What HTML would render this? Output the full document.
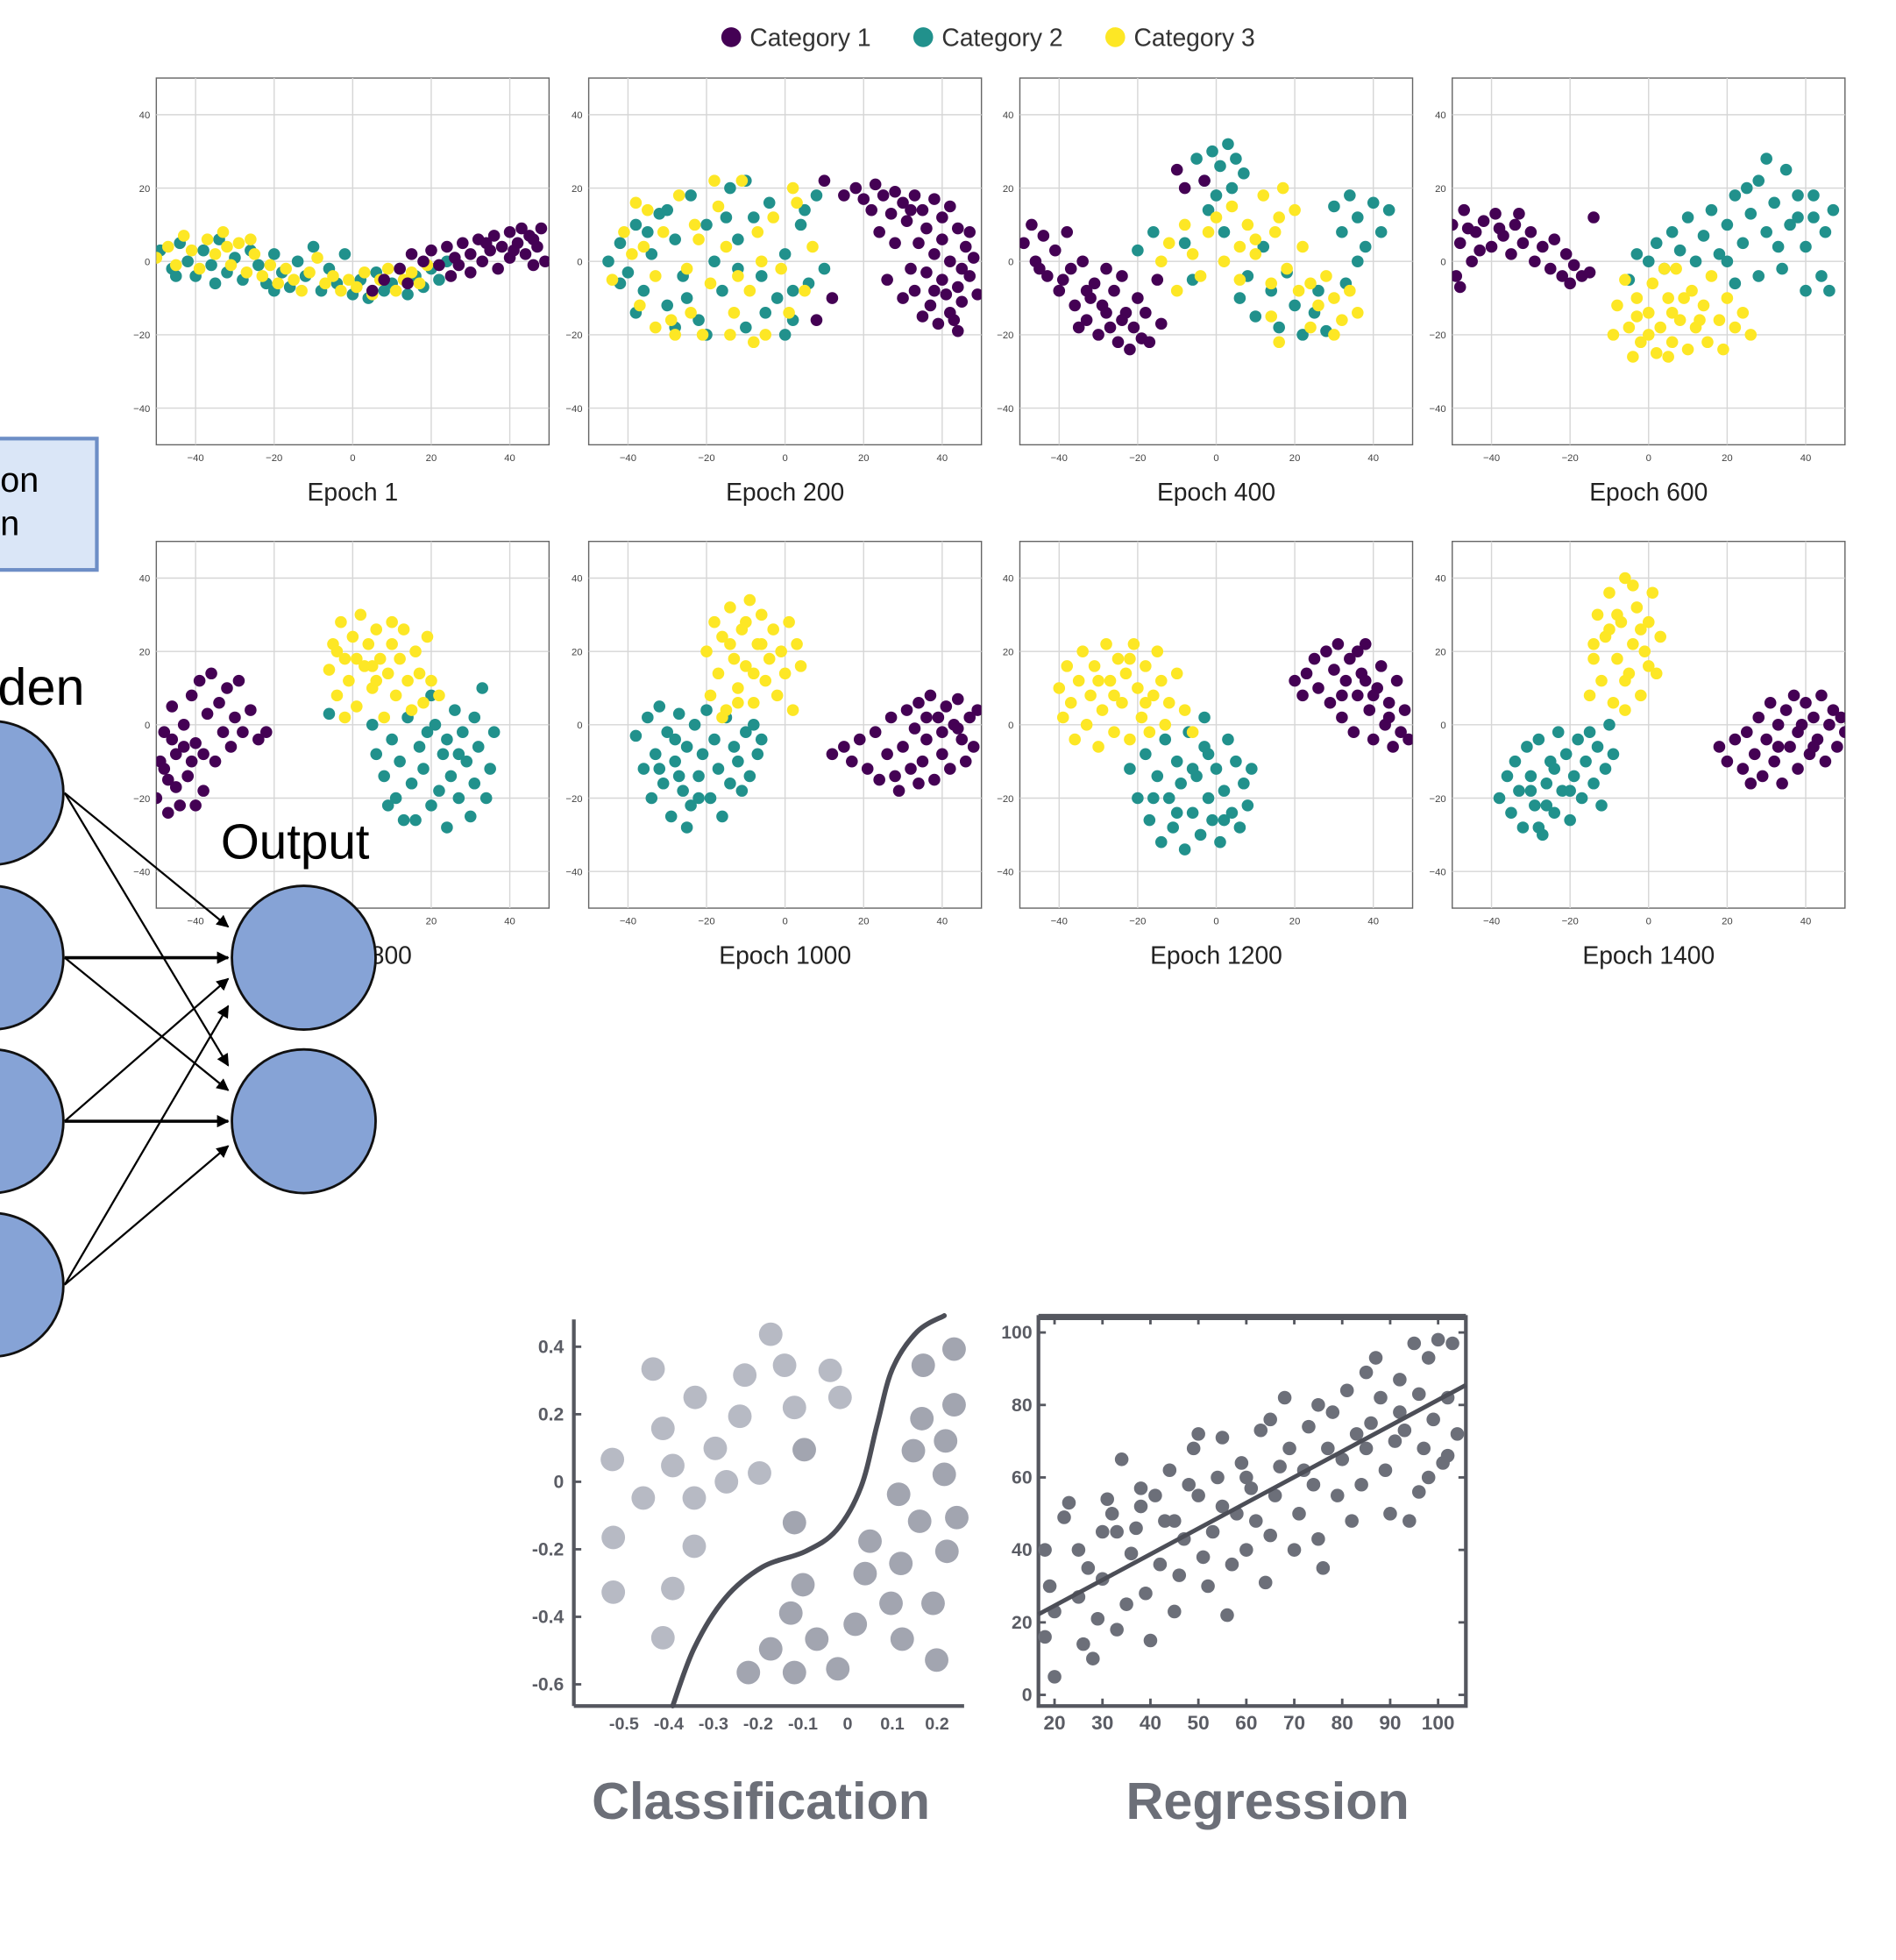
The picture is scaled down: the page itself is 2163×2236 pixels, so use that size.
<!DOCTYPE html>
<html><head><meta charset="utf-8"><style>
html,body{margin:0;padding:0;background:#fff;}
svg{display:block;}
text{font-family:"Liberation Sans",sans-serif;}
</style></head><body>
<svg id="root" width="2163" height="2236" viewBox="0 0 1530 1582" xmlns="http://www.w3.org/2000/svg">
<defs><marker id="ah" markerWidth="10" markerHeight="10" refX="9" refY="5" orient="auto" markerUnits="userSpaceOnUse"><path d="M0,0 L10,5 L0,10 z" fill="#000"/></marker></defs>
<g id="net">
<rect x="-10" y="354" width="88" height="106" fill="#dae6f7" stroke="#6d8ec6" stroke-width="3"/>
<text x="0" y="397" font-size="28">on</text>
<text x="0" y="432" font-size="28">n</text>
<text x="-2" y="569" font-size="42">den</text>
<text x="178" y="693" font-size="40">Output</text>
</g>
<g id="tsne"></g>
<g id="cls"></g>
<g id="reg"></g>
</svg>
<script>
const NS='http://www.w3.org/2000/svg';
function mk(parent,tag,attrs,text){const e=document.createElementNS(NS,tag);for(const k in attrs)e.setAttribute(k,attrs[k]);if(text!==undefined)e.textContent=text;parent.appendChild(e);return e;}

// ---------- t-SNE data ----------
const epochLabels=['Epoch 1','Epoch 200','Epoch 400','Epoch 600','Epoch 800','Epoch 1000','Epoch 1200','Epoch 1400'];
const categories=['Category 1','Category 2','Category 3'];
const catColors=['#440154','#21918c','#fde725'];
const axisTicks=[-40,-20,0,20,40];
const cat1Points=[
"12 -2,15 2,18 0,20 3,22 -1,24 4,26 1,28 5,30 2,32 6,33 0,35 3,36 7,38 4,40 1,40 8,42 5,44 2,45 7,47 4,48 9,49 0,46 -1,43 9,30 -3,25 -4,37 -2,14 -6,8 -5,5 -8,41 3,46 6,34 5,27 -1",
"15 18,18 20,20 17,23 21,25 18,28 19,30 16,33 18,35 14,38 17,40 12,42 15,27 13,31 11,36 9,40 6,44 9,46 4,48 1,45 -2,42 0,38 2,34 5,36 -3,40 -5,44 -7,47 -4,49 -9,45 -11,41 -9,37 -12,33 -8,30 -10,35 -15,39 -17,42 -14,44 -19,32 -2,28 5,24 8,26 -5,10 22,12 -10,8 -16,47 8,43 -16,38 -8,32 14,22 14",
"-49 5,-47 10,-46 0,-44 7,-43 -4,-41 3,-40 -8,-38 8,-37 -2,-36 -12,-34 0,-33 -16,-31 -6,-30 -20,-29 -12,-27 -18,-26 -8,-25 -22,-23 -14,-22 -24,-21 -18,-20 -10,-19 -21,-18 -14,-17 -22,-15 -5,-14 -17,-28 -2,-32 -10,-24 -4,-35 -18,-10 25,-8 20,-3 22,-45 -2,-39 -5,-33 -8,-28 -14,-24 -16",
"-50 10,-48 5,-47 14,-45 0,-44 8,-42 11,-40 4,-39 13,-37 7,-35 2,-34 10,-32 5,-30 8,-29 0,-27 4,-25 -2,-24 6,-22 -4,-21 2,-20 -6,-19 -1,-17 -4,-15 -3,-49 -4,-48 -7,-14 12,-33 13,-43 3,-38 9,-46 9",
"-50 -20,-49 -10,-48 -2,-47 -15,-46 5,-45 -8,-44 -22,-43 0,-42 -14,-41 8,-40 -5,-39 12,-38 -18,-37 3,-36 14,-35 -10,-34 6,-33 -2,-32 10,-31 -6,-30 2,-29 12,-28 -2,-26 4,-24 -4,-22 -2,-47 -24,-40 -22,-42 -14,-48 -12,-45 -17,-43 -6,-41 -10,-46 -4,-38 -8",
"12 -8,15 -6,17 -10,19 -4,21 -12,23 -2,24 -15,26 -8,27 2,28 -14,29 -18,30 -6,31 4,32 -12,33 -1,34 6,35 -10,36 -4,37 8,38 -15,39 2,40 -8,41 5,42 -12,43 0,44 7,45 -4,46 -10,47 2,48 -6,49 4,34 -16,40 -2,44 -1,36 2",
"20 12,22 8,23 14,25 18,26 10,28 20,29 6,30 15,31 22,32 2,33 12,34 18,35 -2,36 8,37 14,38 22,39 4,40 -4,41 10,42 16,43 0,44 6,45 -6,46 12,47 -2,48 4,49 -4,36 20,32 8,40 8,44 2,38 12",
"18 -6,20 -10,22 -4,24 -12,25 -2,26 -16,27 -8,28 2,29 -14,30 -4,31 6,32 -10,33 0,34 -16,35 4,36 -6,37 8,38 -12,39 0,40 6,41 -8,42 2,43 -4,44 8,45 -10,46 0,47 4,48 -6,49 2,50 -2,33 -6,38 -2,42 -6"
];
const cat2Points=[
"-49 3,-46 -2,-44 5,-42 0,-40 -4,-38 3,-36 -1,-34 6,-32 -3,-30 1,-28 -5,-26 3,-24 -1,-22 -6,-20 2,-18 -3,-16 -7,-14 0,-12 -4,-10 4,-8 -8,-6 -2,-4 -6,-2 2,0 -9,2 -5,4 -10,6 -3,8 -8,10 -6,12 -2,14 -9,16 -4,18 -7,20 -2,22 -5,24 0,-35 -6,-45 -4,-20 -8",
"-45 0,-42 5,-40 -3,-38 10,-36 -8,-34 2,-32 13,-30 -12,-28 6,-26 -4,-24 18,-22 -16,-20 10,-18 0,-16 -8,-14 20,-12 6,-10 -18,-8 12,-6 -4,-4 16,-2 -10,0 2,2 -16,4 10,6 -6,8 18,10 -2,-38 -14,-30 14,-20 -20,-10 22,0 -20,5 14,-35 8,-25 -10,-15 12,-5 -14,-42 -6,-28 -18,-12 -2,2 -8",
"-5 28,-3 22,-1 30,0 18,1 26,3 32,4 20,5 28,7 24,-2 14,-8 5,-6 -5,2 8,6 -10,10 -15,14 -8,16 -18,20 -12,22 -20,25 -14,28 -19,12 4,18 -3,30 15,32 8,34 18,36 12,38 4,40 16,42 8,44 14,36 0,8 -4,-20 3,-16 8,33 -6,26 -8",
"-5 -5,0 0,2 5,4 -2,6 8,8 3,10 12,12 0,14 7,16 14,18 2,20 10,22 18,24 5,26 13,28 22,30 8,32 16,34 -2,36 10,38 18,40 4,42 12,44 -4,45 8,35 25,30 28,25 20,20 0,46 -8,-3 2,28 -4,22 -6,40 -8,33 4,38 12,47 14,42 18",
"5 0,6 -8,8 -14,10 -4,11 -20,12 -10,14 2,15 -16,16 -26,17 -6,18 -12,20 -22,21 0,22 -18,23 -8,24 -28,25 -14,26 4,27 -20,28 -2,29 -10,30 -25,31 -16,32 -6,33 10,34 -20,35 -12,36 -2,-6 3,20 8,9 -22,13 -26,19 -2,27 -8,31 2,24 -4",
"-38 -3,-36 -12,-35 2,-34 -20,-33 -8,-32 5,-31 -16,-30 -2,-29 -25,-28 -10,-27 3,-26 -18,-25 -6,-24 -22,-23 0,-22 -14,-21 -8,-20 4,-19 -20,-18 -4,-17 -12,-16 -25,-15 2,-14 -16,-13 -6,-12 -10,-11 -18,-10 -2,-9 -14,-8 0,-7 -8,-6 -4,-25 -28,-32 -12,-28 -4,-22 -20,-27 -14",
"-22 -12,-20 -20,-18 -8,-17 -26,-15 -14,-14 -32,-13 -4,-12 -20,-11 -28,-10 -10,-9 -16,-8 -34,-7 -2,-6 -24,-5 -14,-4 -30,-3 -6,-2 -20,-1 -26,0 -12,1 -32,2 -18,3 -4,4 -24,5 -10,6 -28,7 -16,8 -22,9 -12,-3 2,-16 -20,-10 -24,-6 -12,2 -26,-2 -8",
"-38 -20,-36 -14,-35 -24,-34 -10,-33 -18,-32 -28,-31 -6,-30 -14,-29 -22,-28 -4,-27 -30,-26 -16,-25 -10,-24 -24,-23 -2,-22 -18,-21 -8,-20 -26,-19 -14,-18 -4,-17 -20,-16 -10,-15 -2,-14 -16,-13 -6,-12 -22,-11 -12,-10 0,-9 -8,-28 -28,-30 -18,-24 -12,-20 -18,-26 -22"
];
const cat3Points=[
"-50 1,-47 4,-45 -1,-43 7,-41 3,-39 -2,-37 6,-35 2,-33 8,-31 -1,-29 5,-27 -3,-25 2,-23 -4,-21 -1,-19 -6,-17 -2,-15 -5,-13 -8,-11 -3,-9 1,-7 -6,-5 -4,-3 -8,-1 -5,1 -7,3 -3,5 -9,7 -5,9 -2,11 -8,13 -5,15 -3,17 -6,19 -1,-32 4,-26 6",
"-44 -5,-41 8,-39 2,-37 -12,-35 14,-33 -4,-31 8,-29 -16,-27 18,-25 -2,-23 10,-21 -20,-19 -6,-17 15,-15 4,-13 -14,-11 22,-9 -8,-7 8,-5 -20,-3 12,-1 -2,1 -14,3 16,5 -8,7 4,-38 16,-28 -20,-18 22,-8 -22,2 20,-33 -18,-22 6,-12 -4,-36 4,-24 -14,-14 -20,-6 0",
"-12 5,-8 10,-6 2,-4 -4,-2 8,0 12,2 0,4 15,6 -5,8 10,10 2,12 18,14 -6,15 8,17 20,18 -2,20 14,22 4,21 -8,24 -6,26 -12,28 -4,30 -10,32 -16,34 -8,36 -14,30 -20,24 -18,16 -22,-14 0,-10 -8,14 -15,10 6,16 12,6 4",
"-8 -12,-6 -5,-5 -18,-3 -10,-2 -22,0 -14,1 -6,2 -25,3 -18,5 -10,6 -22,7 -2,8 -16,10 -24,11 -8,12 -18,14 -12,15 -22,16 -4,18 -16,19 -24,20 -10,22 -18,24 -14,26 -20,-9 -20,-4 -26,4 -2,0 -20,6 -14,9 -10,13 -16,-3 -15,5 -26",
"-6 15,-5 22,-4 8,-3 28,-2 18,-1 12,0 24,1 5,2 30,3 16,4 22,5 10,6 26,7 18,8 2,9 14,10 22,11 8,12 18,13 26,14 12,15 4,16 20,17 14,18 6,19 24,20 12,-2 2,22 8,1 18,6 12,-4 20,5 16,10 28",
"-20 20,-19 8,-18 28,-17 14,-16 24,-15 4,-14 32,-13 18,-12 10,-11 26,-10 16,-9 34,-8 6,-7 22,-6 30,-5 12,-4 18,-3 26,-2 8,-1 20,0 14,1 28,2 4,3 22,4 16,-16 2,-12 6,-14 22,-8 14,-10 28,-6 22",
"-40 10,-39 2,-38 16,-37 6,-36 -4,-35 12,-34 20,-33 0,-32 8,-31 16,-30 -6,-29 4,-28 22,-27 12,-26 -2,-25 18,-24 6,-23 14,-22 -4,-21 22,-20 10,-19 2,-18 16,-17 -2,-16 8,-15 20,-14 12,-13 0,-12 6,-10 14,-8 4,-6 -2,-30 12,-26 8,-22 18,-18 6",
"-15 8,-14 18,-13 30,-12 12,-11 24,-10 36,-9 6,-8 18,-7 28,-6 40,-5 14,-4 22,-3 32,-2 8,-1 20,0 28,1 36,2 14,3 24,-6 4,-10 26,-4 38,-14 22,-8 30,-6 12,-2 26,0 16"
];

// ---------- classification data ----------
const clsXTicks=[-0.5,-0.4,-0.3,-0.2,-0.1,0,0.1,0.2];
const clsYTicks=[0.4,0.2,0,-0.2,-0.4,-0.6];
const clsLightX=[-0.435,-0.172,-0.230,-0.141,-0.039,-0.341,-0.241,-0.119,-0.017,-0.413,-0.296,-0.526,-0.391,-0.271,-0.197,-0.457,-0.343,-0.524,-0.343,-0.524,-0.391,-0.413];
const clsLightY=[0.334,0.437,0.316,0.345,0.330,0.250,0.194,0.220,0.250,0.158,0.099,0.066,0.048,0,0.026,-0.048,-0.048,-0.165,-0.191,-0.327,-0.316,-0.462];
const clsDarkX=[0.238,0.169,0.238,0.166,0.147,0.219,0.216,0.114,0.161,0.244,0.050,0.119,0.222,-0.100,0.039,-0.127,0.017,0.097,0.191,-0.069,0.122,0.199,-0.222,-0.119,-0.022,-0.172,-0.097,-0.119];
const clsDarkY=[0.393,0.345,0.228,0.187,0.092,0.121,0.022,-0.037,-0.117,-0.106,-0.176,-0.242,-0.206,-0.305,-0.272,-0.389,-0.422,-0.360,-0.360,-0.466,-0.466,-0.528,-0.565,-0.565,-0.554,-0.495,0.095,-0.121];
const clsCurveX=[-0.391,-0.343,-0.274,-0.191,-0.094,-0.025,0.030,0.066,0.100,0.155,0.216];
const clsCurveY=[-0.664,-0.492,-0.345,-0.253,-0.206,-0.143,-0.015,0.169,0.334,0.444,0.492];

// ---------- regression data ----------
const regXTicks=[20,30,40,50,60,70,80,90,100];
const regYTicks=[100,80,60,40,20,0];
const regX=[20,18,20,19,18,22,23,25,26,27,28,29,30,31,32,33,33,34,35,36,37,38,39,40,41,42,43,44,45,46,47,48,49,50,50,51,52,53,54,55,56,57,58,59,60,61,62,63,64,65,66,67,68,69,70,71,72,73,74,75,76,77,78,79,80,81,82,83,84,85,86,87,88,89,90,91,92,93,94,95,96,97,98,99,100,101,102,103,104,102,98,96,60,45,38,30,25,55,65,75,85,92];
const regY=[5,16,23,30,40,49,53,40,14,35,10,21,32,54,50,45,18,65,25,39,46,57,28,15,55,36,48,62,23,33,43,58,68,72,55,38,30,45,60,71,22,36,50,64,40,57,48,73,31,44,55,63,82,68,40,50,62,74,58,43,35,68,78,55,65,84,48,72,58,89,75,93,82,62,50,70,87,73,48,97,83,68,93,76,98,64,82,97,72,66,60,56,60,48,52,45,27,52,76,80,68,78];
const regLineX=[16.6,105.8];
const regLineY=[22.2,85.5];

function parsePts(s){return s.split(',').map(p=>p.trim().split(/\s+/).map(Number));}

const root=document.getElementById('root');
const legend=mk(root,'g',{});


const legX=[590,745,900];
categories.forEach((c,i)=>{
  const g=mk(legend,'g',{});
  
  
  mk(g,'circle',{cx:legX[i],cy:30,r:8,fill:catColors[i]});
  mk(g,'text',{x:legX[i]+15,y:37,'font-size':20,fill:'#333'},c);
});

const tsne=document.getElementById('tsne');
const panelX=[126,475,823,1172], panelY=[63,437], PW=317, PH=296;
epochLabels.forEach((lab,pi)=>{
  const x0=panelX[pi%4], y0=panelY[Math.floor(pi/4)];
  const sx=v=>x0+(v+50)/100*PW;
  const sy=v=>y0+(50-v)/100*PH;
  const g=mk(tsne,'g',{});
  
  
  mk(g,'rect',{x:x0,y:y0,width:PW,height:PH,fill:'#fff',stroke:'#666','stroke-width':1});
  axisTicks.forEach(t=>{
    mk(g,'line',{x1:sx(t),x2:sx(t),y1:y0,y2:y0+PH,stroke:'#d6d6d6','stroke-width':1});
    mk(g,'line',{x1:x0,x2:x0+PW,y1:sy(t),y2:sy(t),stroke:'#d6d6d6','stroke-width':1});
    mk(g,'text',{x:sx(t),y:y0+PH+13,'font-size':8,'text-anchor':'middle',fill:'#444'},String(t).replace('-','−'));
    mk(g,'text',{x:x0-5,y:sy(t)+3,'font-size':8,'text-anchor':'end',fill:'#444'},String(t).replace('-','−'));
  });
  const clip='clip'+pi;
  const cp=mk(g,'clipPath',{id:clip});mk(cp,'rect',{x:x0,y:y0,width:PW,height:PH});
  const pts=mk(g,'g',{'clip-path':'url(#'+clip+')'});
  [cat2Points,cat3Points,cat1Points].forEach((arr,k)=>{
    const ci=[1,2,0][k];
    parsePts(arr[pi]).forEach(p=>{
      const c=mk(pts,'circle',{cx:sx(p[0]),cy:sy(p[1]),r:4.8,fill:catColors[ci]});
      
      
    });
  });
  const t=mk(g,'text',{x:x0+PW/2,y:y0+PH+45,'font-size':20,'text-anchor':'middle',fill:'#222'},lab);
  
  
});

const net=document.getElementById('net');
root.appendChild(net);
const hidY=[640,773,905,1037];
const outY=[773,905];
const arrows=[[0,748],[0,860],[1,773],[1,880],[2,790],[2,905],[3,812],[3,925]];
arrows.forEach(a=>{
  const l=mk(net,'line',{x1:52,y1:hidY[a[0]],x2:184,y2:a[1],stroke:'#000','stroke-width':a[1]===hidY[a[0]]?2.5:1.6,'marker-end':'url(#ah)'});
  
  
});
hidY.forEach(y=>{const c=mk(net,'circle',{cx:-7,cy:y,r:58,fill:'#86a3d6',stroke:'#111','stroke-width':2});
  
  });
outY.forEach(y=>{const c=mk(net,'circle',{cx:245,cy:y,r:58,fill:'#86a3d6',stroke:'#111','stroke-width':2});
  
  });

const cls=document.getElementById('cls');
const cx=v=>684+v*361, cy=v=>1196-v*272.5;
mk(cls,'line',{x1:463,y1:1065,x2:463,y2:1377,stroke:'#55575f','stroke-width':3});
mk(cls,'line',{x1:463,y1:1377,x2:778,y2:1377,stroke:'#55575f','stroke-width':3});
clsYTicks.forEach(t=>{
  mk(cls,'line',{x1:463,x2:469,y1:cy(t),y2:cy(t),stroke:'#55575f','stroke-width':2});
  mk(cls,'text',{x:455,y:cy(t)+5,'font-size':15,'font-weight':'bold','text-anchor':'end',fill:'#5a5c64'},String(t));
});
clsXTicks.forEach(t=>{
  mk(cls,'text',{x:cx(t),y:1396,'font-size':14,'font-weight':'bold','text-anchor':'middle',fill:'#5a5c64'},String(t));
});
clsLightX.forEach((v,i)=>{const c=mk(cls,'circle',{cx:cx(v),cy:cy(clsLightY[i]),r:9.5,fill:'#b7bac4'});
  
  });
clsDarkX.forEach((v,i)=>{const c=mk(cls,'circle',{cx:cx(v),cy:cy(clsDarkY[i]),r:9.5,fill:'#a2a5b0'});
  
  });
// smooth catmull-rom path
const P=clsCurveX.map((v,i)=>[cx(v),cy(clsCurveY[i])]);
let d='M'+P[0][0].toFixed(1)+','+P[0][1].toFixed(1);
for(let i=0;i<P.length-1;i++){
  const p0=P[Math.max(0,i-1)],p1=P[i],p2=P[i+1],p3=P[Math.min(P.length-1,i+2)];
  const c1=[p1[0]+(p2[0]-p0[0])/6,p1[1]+(p2[1]-p0[1])/6];
  const c2=[p2[0]-(p3[0]-p1[0])/6,p2[1]-(p3[1]-p1[1])/6];
  d+=' C'+c1.map(n=>n.toFixed(1)).join(',')+' '+c2.map(n=>n.toFixed(1)).join(',')+' '+p2.map(n=>n.toFixed(1)).join(',');
}
const cb=mk(cls,'path',{d:d,fill:'none',stroke:'#4c4e57','stroke-width':4,'stroke-linecap':'round'});


const ct=mk(cls,'text',{x:614,y:1468,'font-size':42,'font-weight':'bold','text-anchor':'middle',fill:'#6c6f78'},'Classification');



const reg=document.getElementById('reg');
const rx=v=>851+(v-20)*3.87, ry=v=>1368-v*2.925;
mk(reg,'rect',{x:838,y:1063,width:345,height:314,fill:'none',stroke:'#55575f','stroke-width':3});
mk(reg,'line',{x1:838,x2:1183,y1:1063,y2:1063,stroke:'#55575f','stroke-width':5});
regYTicks.forEach(t=>{
  mk(reg,'line',{x1:838,x2:844,y1:ry(t),y2:ry(t),stroke:'#55575f','stroke-width':2});
  mk(reg,'line',{x1:1177,x2:1183,y1:ry(t),y2:ry(t),stroke:'#55575f','stroke-width':2});
  mk(reg,'text',{x:833,y:ry(t)+5,'font-size':15,'font-weight':'bold','text-anchor':'end',fill:'#5a5c64'},String(t));
});
regXTicks.forEach(t=>{
  mk(reg,'line',{x1:rx(t),x2:rx(t),y1:1377,y2:1371,stroke:'#55575f','stroke-width':2});
  mk(reg,'line',{x1:rx(t),x2:rx(t),y1:1063,y2:1069,stroke:'#55575f','stroke-width':2});
  mk(reg,'text',{x:rx(t),y:1396,'font-size':16,'font-weight':'bold','text-anchor':'middle',fill:'#5a5c64'},String(t));
});
regX.forEach((v,i)=>{const c=mk(reg,'circle',{cx:rx(v),cy:ry(regY[i]),r:5.5,fill:'#6c6f79'});
  
  });
const rl=mk(reg,'line',{x1:rx(regLineX[0]),y1:ry(regLineY[0]),x2:rx(regLineX[1]),y2:ry(regLineY[1]),stroke:'#4c4e57','stroke-width':3.5});


const rt=mk(reg,'text',{x:1023,y:1468,'font-size':42,'font-weight':'bold','text-anchor':'middle',fill:'#6c6f78'},'Regression');


</script>
</body></html>
